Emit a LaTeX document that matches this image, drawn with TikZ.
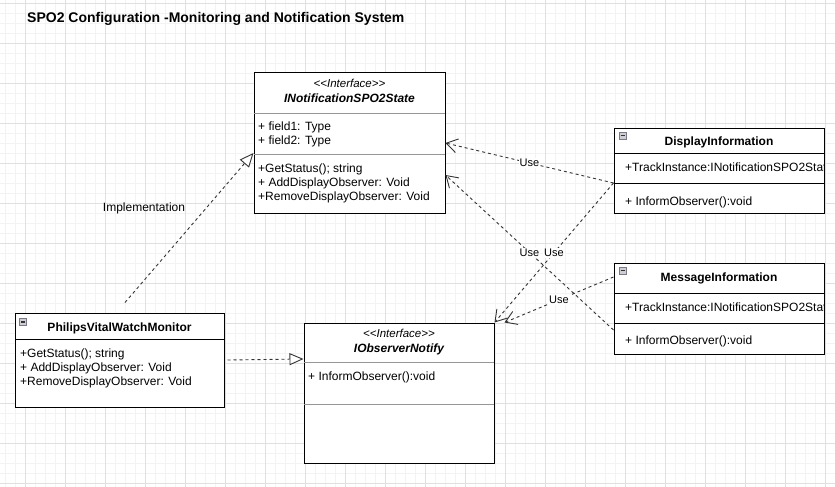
\documentclass[tikz,border=0pt]{standalone}
\usepackage{fontspec}
\setmainfont{Liberation Sans}[Ligatures=TeXOff]
\usepackage{tikz}
\usetikzlibrary{arrows.meta,positioning}
\definecolor{gridmajor}{RGB}{224,224,224}
\definecolor{gridminor}{RGB}{243,243,243}
\definecolor{umldiv}{RGB}{150,150,150}
\definecolor{linkgray}{RGB}{51,51,51}
\definecolor{iconfill}{RGB}{205,205,210}
\definecolor{iconline}{RGB}{120,120,135}
\tikzstyle{majorgrid} = [draw=gridmajor, line width=0.8pt]
\tikzstyle{minorgrid} = [draw=gridminor, line width=0.8pt]
\tikzstyle{umlbox} = [rectangle, draw=black, fill=white, line width=1pt, inner sep=0pt]
\tikzstyle{graydiv} = [draw=umldiv, line width=1pt]
\tikzstyle{blackdiv} = [draw=black, line width=1pt]
\tikzstyle{member} = [anchor=base west, inner sep=0pt, font=\fontsize{12}{14}\selectfont]
\tikzstyle{classname} = [anchor=base, inner sep=0pt, font=\fontsize{12}{14}\selectfont\bfseries]
\tikzstyle{ifacename} = [anchor=base, inner sep=0pt, font=\fontsize{12}{14}\selectfont\bfseries\itshape]
\tikzstyle{stereo} = [anchor=base, inner sep=0pt, font=\fontsize{11.5}{13}\selectfont\itshape]
\tikzstyle{titletext} = [anchor=base west, inner sep=0pt, font=\fontsize{14}{16}\selectfont\bfseries]
\tikzstyle{minusicon} = [rectangle, draw=iconline, fill=iconfill, line width=0.6pt, minimum size=7pt, inner sep=0pt,
  path picture={\draw[line width=1.2pt, black!80] ([xshift=1.5pt]path picture bounding box.west) -- ([xshift=-1.5pt]path picture bounding box.east);}]
\tikzstyle{uselink} = [draw=linkgray, line width=0.9pt, dash pattern=on 3pt off 3pt, -{Straight Barb[length=11pt,width=14pt,line width=0.9pt]}]
\tikzstyle{realize} = [draw=linkgray, line width=0.9pt, dash pattern=on 3pt off 3pt, -{Triangle[open,length=14pt,width=12pt,fill=white,line width=0.9pt]}]
\tikzstyle{linklabel} = [fill=white, inner sep=1pt, font=\fontsize{11}{13}\selectfont]

\begin{document}
\begin{tikzpicture}[x=1pt, y=-1pt]
% Background grid
\useasboundingbox (0,0) rectangle (835,487);
\fill[white] (0,0) rectangle (835,487);
\foreach \gx in {5,15,...,835} \draw[minorgrid] (\gx,0) -- (\gx,487);
\foreach \gy in {3,13,...,483} \draw[minorgrid] (0,\gy) -- (835,\gy);
\foreach \gx in {25,65,...,825} \draw[majorgrid] (\gx,0) -- (\gx,487);
\foreach \gy in {3,43,...,483} \draw[majorgrid] (0,\gy) -- (835,\gy);

% Title
\node (title) [titletext] at (27,23) {SPO2 Configuration -Monitoring and Notification System};

% Class boxes
\node (istate) [umlbox, minimum width=191pt, minimum height=140pt] at (349.5,143) {};
\node (dispinfo) [umlbox, minimum width=210pt, minimum height=85pt] at (719,170.5) {};
\node (msginfo) [umlbox, minimum width=210pt, minimum height=91pt] at (719,308.5) {};
\node (philips) [umlbox, minimum width=209pt, minimum height=94pt] at (119.5,360) {};
\node (observer) [umlbox, minimum width=190pt, minimum height=140pt] at (399,393) {};

% Compartment lines
\draw[graydiv] (254,113) -- (445,113);
\draw[graydiv] (254,154) -- (445,154);
\draw[blackdiv] (614,153) -- (824,153);
\draw[blackdiv] (614,183) -- (824,183);
\draw[blackdiv] (614,293) -- (824,293);
\draw[blackdiv] (614,323) -- (824,323);
\draw[blackdiv] (15,339) -- (224,339);
\draw[graydiv] (304,362) -- (494,362);
\draw[graydiv] (304,404) -- (494,404);

% INotificationSPO2State
\node (istatestereo) [stereo] at (349.5,88) {<<Interface>>};
\node (istatename) [ifacename] at (349.5,102.5) {INotificationSPO2State};
\node (istatef1) [member] at (258,130) {+ field1: Type};
\node (istatef2) [member] at (258,144) {+ field2: Type};
\node (istatem1) [member] at (258,172) {+GetStatus(); string};
\node (istatem2) [member] at (258,186) {+ AddDisplayObserver: Void};
\node (istatem3) [member] at (258,200) {+RemoveDisplayObserver: Void};

% DisplayInformation
\node (dispicon) [minusicon] at (622.5,135.5) {};
\node (dispname) [classname] at (719,145.5) {DisplayInformation};
\begin{scope}
\clip (614,153) rectangle (824,183);
\node (dispf1) [member] at (625,171) {+TrackInstance:INotificationSPO2State};
\end{scope}
\node (dispm1) [member] at (625,205) {+ InformObserver():void};

% MessageInformation
\node (msgicon) [minusicon] at (622.5,270.5) {};
\node (msgname) [classname] at (719,281.5) {MessageInformation};
\begin{scope}
\clip (614,293) rectangle (824,323);
\node (msgf1) [member] at (625,311) {+TrackInstance:INotificationSPO2State};
\end{scope}
\node (msgm1) [member] at (625,344) {+ InformObserver():void};

% PhilipsVitalWatchMonitor
\node (philipsicon) [minusicon] at (23,322) {};
\node (philipsname) [classname] at (119.5,331.5) {PhilipsVitalWatchMonitor};
\node (philipsm1) [member] at (20,357) {+GetStatus(); string};
\node (philipsm2) [member] at (20,371) {+ AddDisplayObserver: Void};
\node (philipsm3) [member] at (20,385) {+RemoveDisplayObserver: Void};

% IObserverNotify
\node (observerstereo) [stereo] at (399,337) {<<Interface>>};
\node (observername) [ifacename] at (399,352.5) {IObserverNotify};
\node (observerm1) [member] at (308,380) {+ InformObserver():void};

% Ports
\coordinate (dispport) at ([yshift=-12.5pt]dispinfo.west);
\coordinate (msgtop) at ([yshift=31.5pt]msginfo.west);
\coordinate (msgbottom) at ([yshift=-21.5pt]msginfo.west);
\coordinate (implstart) at ([xshift=5.5pt,yshift=10pt]philips.north);

% Realizations
\draw[realize] (implstart) -- ([yshift=-10pt]istate.west);
\node (impllabel) [font=\fontsize{12}{14}\selectfont, inner sep=1pt] at (144,208) {Implementation};
\draw[realize] ([xshift=3pt]philips.east) -- ([yshift=34pt]observer.west);

% Use dependencies
\draw[uselink] (dispport) -- (istate.east) node[linklabel, pos=0.5] {Use};
\draw[uselink] (msgbottom) -- ([yshift=-32pt]istate.east) node[linklabel, pos=0.5] {Use};
\draw[uselink] (dispport) -- (observer.north east) node[linklabel, pos=0.5] {Use};
\draw[uselink] (msgtop) -- ([xshift=10pt]observer.north east) node[linklabel, pos=0.5] {Use};
\end{tikzpicture}
\end{document}
